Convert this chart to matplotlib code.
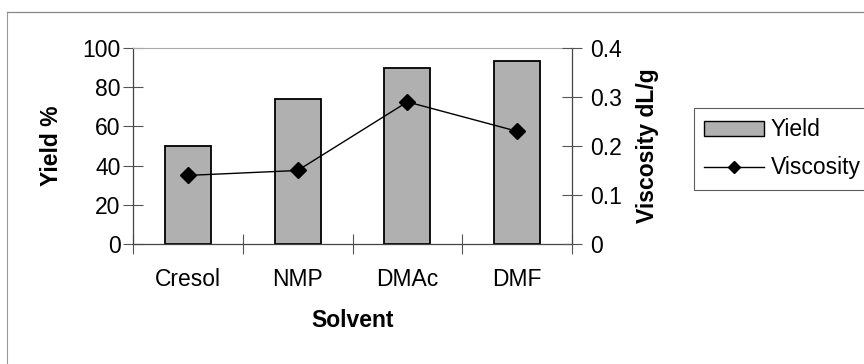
import matplotlib
matplotlib.use("Agg")
import matplotlib.pyplot as plt
from matplotlib.lines import Line2D
from matplotlib.patches import Patch
import numpy as np

plt.rcParams['font.family'] = ['Liberation Sans', 'DejaVu Sans']

solvents = ["Cresol", "NMP", "DMAc", "DMF"]
yield_pct = [50, 74, 90, 93.5]
viscosity = [0.14, 0.15, 0.29, 0.23]
yield_ticks = [0, 20, 40, 60, 80, 100]
visc_ticks = [0, 0.1, 0.2, 0.3, 0.4]

W, H = 864, 364
FS = 16.5
fig = plt.figure(figsize=(W / 100, H / 100), dpi=100)
ax = fig.add_axes([133 / W, 1 - 244 / H, (572 - 133) / W, (244 - 48) / H])

x = np.arange(len(solvents))
ax.bar(x, yield_pct, width=0.42, color="#b0b0b0", edgecolor="black",
       linewidth=1.3, zorder=2)
ax.set_xlim(-0.5, len(solvents) - 0.5)
ax.set_ylim(0, 100)
ax.set_yticks(yield_ticks)
ax.set_yticklabels([str(t) for t in yield_ticks])
ax.set_xticks(x)
ax.set_xticklabels(solvents)
ax.set_xticks(np.arange(len(solvents) + 1) - 0.5, minor=True)
ax.tick_params(axis="x", which="major", length=0, labelsize=FS, pad=17)
ax.tick_params(axis="x", which="minor", length=14, direction="inout",
               width=0.8, color="#555555")
ax.tick_params(axis="y", length=14, direction="inout", width=0.8,
               color="#555555", labelsize=FS, pad=2)
ax.set_ylabel("Yield %", fontsize=FS, fontweight="bold", labelpad=14)
ax.set_xlabel("Solvent", fontsize=FS, fontweight="bold", labelpad=13)
for side in ("left", "bottom", "right"):
    ax.spines[side].set_color("#444444")
    ax.spines[side].set_linewidth(0.9)
ax.spines["top"].set_color("#aaaaaa")
ax.spines["top"].set_linestyle((0, (2, 1)))
ax.spines["top"].set_linewidth(0.8)

ax2 = ax.twinx()
ax2.plot(x, viscosity, color="black", linewidth=1.0, marker="D",
         markersize=8, markerfacecolor="black", zorder=3)
ax2.set_ylim(0, 0.4)
ax2.set_yticks(visc_ticks)
ax2.set_yticklabels(["0", "0.1", "0.2", "0.3", "0.4"])
ax2.tick_params(axis="y", length=14, direction="inout", width=0.8,
                color="#555555", labelsize=FS, pad=6)
ax2.set_ylabel("Viscosity dL/g", fontsize=FS, fontweight="bold", labelpad=10)
for s in ax2.spines.values():
    s.set_visible(False)

handles = [Patch(facecolor="#b0b0b0", edgecolor="black", linewidth=1.0),
           Line2D([0], [0], color="black", linewidth=1.0, marker="D",
                  markersize=6, markerfacecolor="black")]
leg = fig.legend(handles, ["Yield", "Viscosity"], loc="upper left",
                 bbox_to_anchor=(694 / W, 1 - 108 / H), fontsize=FS,
                 frameon=True, fancybox=False, borderpad=0.45,
                 handlelength=2.6, handleheight=0.6, handletextpad=0.3,
                 labelspacing=0.65, borderaxespad=0)
leg.get_frame().set_edgecolor("#333333")
leg.get_frame().set_linewidth(0.8)

# thin outer chart border (left and top)
fig.add_artist(Line2D([7 / W, 7 / W], [0, 1 - 12 / H], color="#999999",
                      linewidth=0.8, transform=fig.transFigure))
fig.add_artist(Line2D([7 / W, 1], [1 - 12 / H, 1 - 12 / H], color="#888888",
                      linewidth=0.9, transform=fig.transFigure))

fig.savefig("out.png", dpi=100)
